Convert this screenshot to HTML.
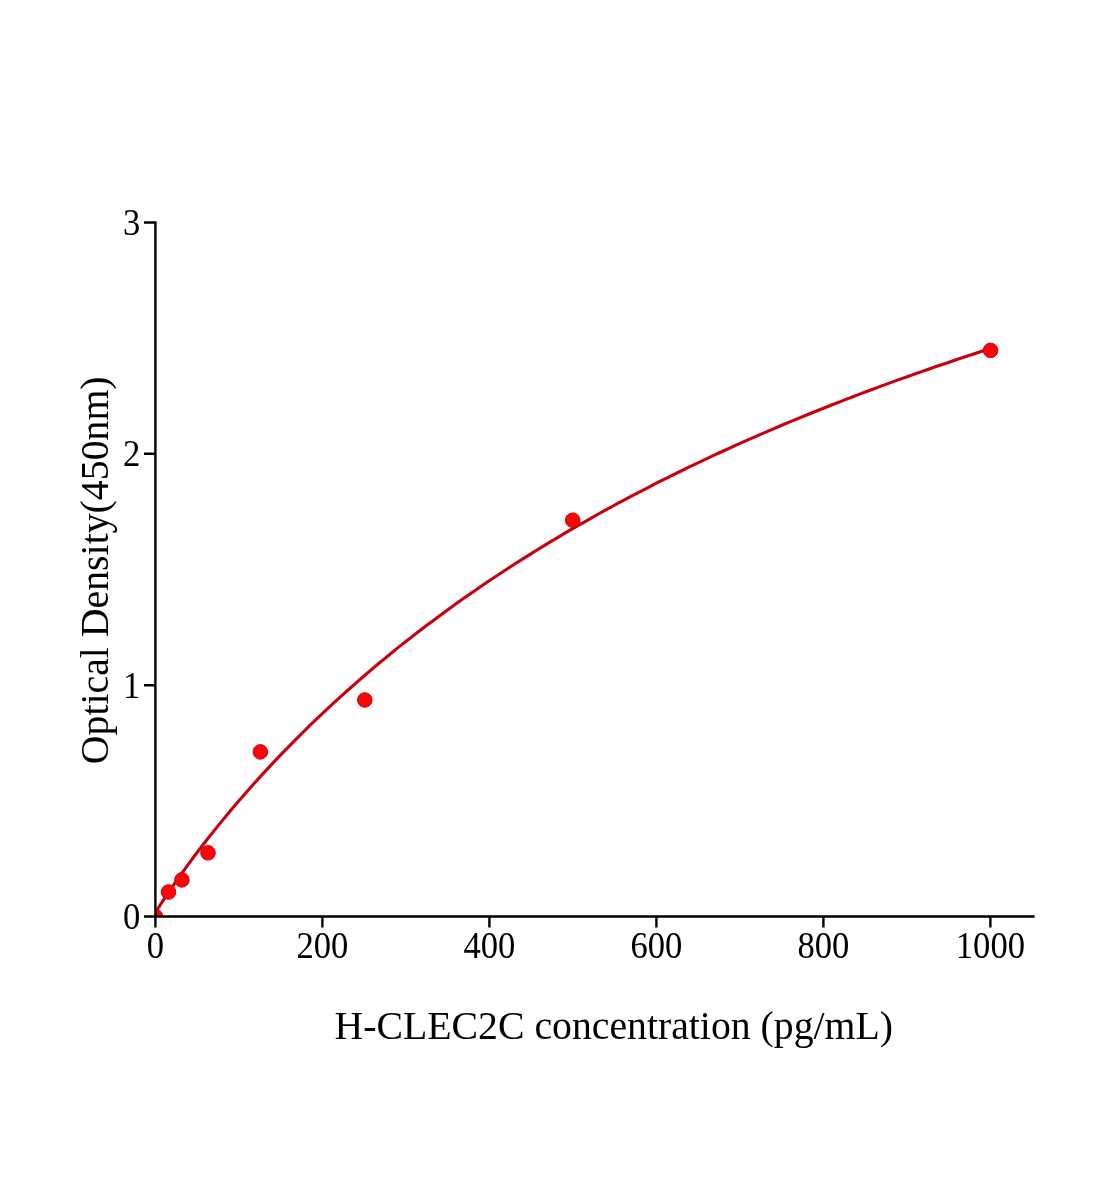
<!DOCTYPE html>
<html><head><meta charset="utf-8"><style>
html,body{margin:0;padding:0;background:#fff;}
svg{display:block;}
text{font-family:"Liberation Serif","Times New Roman",serif;fill:#000;}
svg{will-change:transform;}
</style></head><body>
<svg width="1104" height="1200" viewBox="0 0 1104 1200">
<rect width="1104" height="1200" fill="#fff"/>
<defs><clipPath id="pa"><rect x="155.4" y="150" width="900" height="766.5"/></clipPath></defs>
<g clip-path="url(#pa)">
<polyline points="155.4,912.9 155.8,912.2 156.2,911.5 156.7,910.8 157.1,910.1 157.5,909.4 157.9,908.7 158.3,908.0 158.7,907.3 159.2,906.7 159.6,906.0 160.0,905.3 160.4,904.7 160.8,904.0 161.2,903.4 161.7,902.7 162.1,902.1 162.5,901.4 162.9,900.8 163.3,900.2 163.8,899.5 164.2,898.9 164.6,898.2 165.0,897.6 165.4,897.0 165.8,896.4 166.3,895.7 166.7,895.1 167.1,894.5 167.5,893.8 167.9,893.2 168.3,892.6 168.8,892.0 169.2,891.4 169.6,890.8 170.0,890.1 170.4,889.5 170.8,888.9 171.3,888.3 171.7,887.7 172.1,887.1 179.0,877.2 185.9,867.7 192.7,858.3 199.6,849.2 206.5,840.3 213.4,831.6 220.2,823.1 227.1,814.8 234.0,806.6 240.9,798.6 247.7,790.7 254.6,783.0 261.5,775.4 268.4,767.9 275.2,760.6 282.1,753.4 289.0,746.3 295.9,739.3 302.8,732.5 309.6,725.7 316.5,719.1 323.4,712.6 330.3,706.2 337.1,699.8 344.0,693.6 350.9,687.5 357.8,681.4 364.6,675.5 371.5,669.6 378.4,663.8 385.3,658.1 392.1,652.5 399.0,646.9 405.9,641.5 412.8,636.1 419.7,630.8 426.5,625.5 433.4,620.4 440.3,615.3 447.2,610.2 454.0,605.2 460.9,600.3 467.8,595.5 474.7,590.7 481.5,586.0 488.4,581.3 495.3,576.7 502.2,572.2 509.0,567.7 515.9,563.3 522.8,558.9 529.7,554.6 536.6,550.3 543.4,546.1 550.3,541.9 557.2,537.8 564.1,533.7 570.9,529.7 577.8,525.7 584.7,521.8 591.6,517.9 598.4,514.0 605.3,510.2 612.2,506.5 619.1,502.7 625.9,499.1 632.8,495.4 639.7,491.8 646.6,488.3 653.5,484.7 660.3,481.2 667.2,477.8 674.1,474.4 681.0,471.0 687.8,467.7 694.7,464.4 701.6,461.1 708.5,457.9 715.3,454.6 722.2,451.5 729.1,448.3 736.0,445.2 742.8,442.1 749.7,439.1 756.6,436.1 763.5,433.1 770.4,430.1 777.2,427.2 784.1,424.3 791.0,421.4 797.9,418.6 804.7,415.8 811.6,413.0 818.5,410.2 825.4,407.5 832.2,404.7 839.1,402.1 846.0,399.4 852.9,396.7 859.7,394.1 866.6,391.5 873.5,389.0 880.4,386.4 887.3,383.9 894.1,381.4 901.0,378.9 907.9,376.5 914.8,374.0 921.6,371.6 928.5,369.2 935.4,366.8 942.3,364.5 949.1,362.2 956.0,359.8 962.9,357.5 969.8,355.3 976.6,353.0 983.5,350.8 990.4,348.6" fill="none" stroke="#c6000e" stroke-width="3.1" stroke-linejoin="round"/>
<g fill="#fa0606" stroke="#d4000a" stroke-width="1">
<circle cx="155.4" cy="916.5" r="7.3"/>
<circle cx="168.5" cy="892" r="7.3"/>
<circle cx="181.9" cy="879.9" r="7.3"/>
<circle cx="208" cy="852.8" r="7.3"/>
<circle cx="260.4" cy="751.9" r="7.3"/>
<circle cx="364.8" cy="700.0" r="7.3"/>
<circle cx="572.7" cy="520.2" r="7.3"/>
<circle cx="990.6" cy="350.4" r="7.3"/>
</g>
</g>
<path d="M155.4 221.2V916.5H1034.6 M155.4 916.5V927.6 M322.4 916.5V927.6 M489.4 916.5V927.6 M656.4 916.5V927.6 M823.4 916.5V927.6 M990.4 916.5V927.6 M144 916.5H155.4 M144 685.2H155.4 M144 453.8H155.4 M144 222.5H155.4" fill="none" stroke="#000" stroke-width="2.4"/>
<g font-size="38">
<text transform="translate(155.4 958.2) scale(0.91 1)" text-anchor="middle">0</text>
<text transform="translate(322.4 958.2) scale(0.91 1)" text-anchor="middle">200</text>
<text transform="translate(489.4 958.2) scale(0.91 1)" text-anchor="middle">400</text>
<text transform="translate(656.4 958.2) scale(0.91 1)" text-anchor="middle">600</text>
<text transform="translate(823.4 958.2) scale(0.91 1)" text-anchor="middle">800</text>
<text transform="translate(990.4 958.2) scale(0.91 1)" text-anchor="middle">1000</text>
<text transform="translate(140.3 929.1) scale(0.91 1)" text-anchor="end">0</text>
<text transform="translate(140.3 697.8) scale(0.91 1)" text-anchor="end">1</text>
<text transform="translate(140.3 466.4) scale(0.91 1)" text-anchor="end">2</text>
<text transform="translate(140.3 235.1) scale(0.91 1)" text-anchor="end">3</text>
</g>
<text x="334.6" y="1039.3" font-size="40.5" textLength="558.4" lengthAdjust="spacingAndGlyphs">H-CLEC2C concentration (pg/mL)</text>
<text transform="translate(107.7 764.2) rotate(-90)" font-size="40.5" textLength="387.8" lengthAdjust="spacingAndGlyphs">Optical Density(450nm)</text>
</svg>
</body></html>
